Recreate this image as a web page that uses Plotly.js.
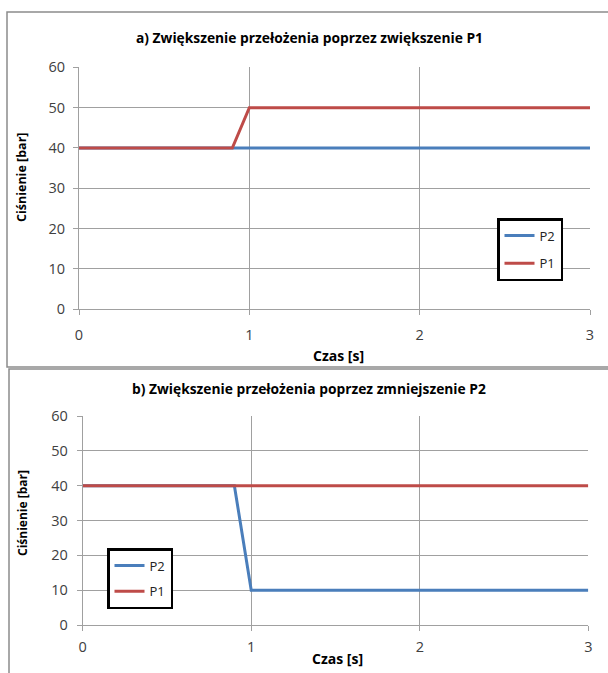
<!DOCTYPE html>
<html>
<head>
<meta charset="utf-8">
<script src="https://cdn.plot.ly/plotly-3.0.1.min.js"></script>
<style>
html,body{margin:0;padding:0;overflow:hidden;background:#fff;}
#chart{width:608px;height:673px;}
</style>
</head>
<body>
<div id="chart"></div>
<script>
// Data
const timeA = [0, 0.9, 1, 3];
const p2A = [40, 40, 40, 40];
const p1A = [40, 40, 50, 50];

const timeB = [0, 0.9, 1, 3];
const p2B = [40, 40, 10, 10];
const p1B = [40, 40, 40, 40];

const titleA = "a) Zwiększenie przełożenia poprzez zwiększenie P1";
const titleB = "b) Zwiększenie przełożenia poprzez zmniejszenie P2";
const xTitle = "Czas [s]";
const yTitle = "Ciśnienie [bar]";

const blue = "#4A7EBB";
const red = "#BE4B48";
const grid = "#a0a0a0";
const FONT = "Open Sans, sans-serif";

const W = 608, H = 673;
const px = v => v / W;
const py = v => 1 - v / H;

const traces = [
  {x: timeA, y: p2A, name: "P2", mode: "lines", line: {color: blue, width: 3}, xaxis: "x", yaxis: "y", legend: "legend", legendgroup: "a2"},
  {x: timeA, y: p1A, name: "P1", mode: "lines", line: {color: red, width: 3}, xaxis: "x", yaxis: "y", legend: "legend", legendgroup: "a1"},
  {x: timeB, y: p2B, name: "P2", mode: "lines", line: {color: blue, width: 3}, xaxis: "x2", yaxis: "y2", legend: "legend2", legendgroup: "b2"},
  {x: timeB, y: p1B, name: "P1", mode: "lines", line: {color: red, width: 3}, xaxis: "x2", yaxis: "y2", legend: "legend2", legendgroup: "b1"}
];

const axisCommon = {
  showgrid: true, gridcolor: grid, gridwidth: 1,
  showline: true, linecolor: grid, linewidth: 1,
  zeroline: false,
  ticks: "outside", ticklen: 5, tickcolor: grid,
  tickfont: {family: FONT, size: 14.5, color: "#404040"},
  fixedrange: true
};

const layout = {
  width: W, height: H,
  margin: {l: 0, r: 0, t: 0, b: 0},
  paper_bgcolor: "#fff", plot_bgcolor: "#fff",
  showlegend: true,
  font: {family: FONT},
  xaxis: Object.assign({}, axisCommon, {domain: [px(79), px(590)], range: [0, 3], tickvals: [0, 1, 2, 3], anchor: "y", ticklabelstandoff: 7}),
  yaxis: Object.assign({}, axisCommon, {domain: [py(309.3), py(67.3)], range: [0, 60], tickvals: [0, 10, 20, 30, 40, 50, 60], anchor: "x", ticklabelstandoff: 5}),
  xaxis2: Object.assign({}, axisCommon, {domain: [px(82.7), px(588.3)], range: [0, 3], tickvals: [0, 1, 2, 3], anchor: "y2", ticklabelstandoff: 4}),
  yaxis2: Object.assign({}, axisCommon, {domain: [py(625), py(416)], range: [0, 60], tickvals: [0, 10, 20, 30, 40, 50, 60], anchor: "x2", ticklabelstandoff: 6}),
  legend: {
    x: px(497), y: py(218), xanchor: "left", yanchor: "top",
    bordercolor: "#000", borderwidth: 2.5, bgcolor: "#fff",
    font: {family: FONT, size: 13, color: "#222"},
    traceorder: "grouped", tracegroupgap: 8, itemwidth: 30
  },
  legend2: {
    x: px(107), y: py(548), xanchor: "left", yanchor: "top",
    bordercolor: "#000", borderwidth: 2.5, bgcolor: "#fff",
    font: {family: FONT, size: 13, color: "#222"},
    traceorder: "grouped", tracegroupgap: 6, itemwidth: 30
  },
  shapes: [
    {type: "rect", xref: "paper", yref: "paper", x0: px(7), x1: 1.02, y0: py(367), y1: py(12), line: {color: "#8c8c8c", width: 1.5}, layer: "below"},
    {type: "rect", xref: "paper", yref: "paper", x0: px(9), x1: 1.02, y0: -0.02, y1: py(369), line: {color: "#8c8c8c", width: 1.5}, layer: "below"}
  ],
  annotations: [
    {text: "<b>" + titleA + "</b>", xref: "paper", yref: "paper", x: px(310), y: py(37), xanchor: "center", yanchor: "middle", showarrow: false, font: {family: FONT, size: 13.8, color: "#000"}},
    {text: "<b>" + titleB + "</b>", xref: "paper", yref: "paper", x: px(309), y: py(389), xanchor: "center", yanchor: "middle", showarrow: false, font: {family: FONT, size: 13.8, color: "#000"}},
    {text: "<b>" + xTitle + "</b>", xref: "paper", yref: "paper", x: px(338), y: py(355), xanchor: "center", yanchor: "middle", showarrow: false, font: {family: FONT, size: 14, color: "#000"}},
    {text: "<b>" + xTitle + "</b>", xref: "paper", yref: "paper", x: px(337), y: py(658), xanchor: "center", yanchor: "middle", showarrow: false, font: {family: FONT, size: 14, color: "#000"}},
    {text: "<b>" + yTitle + "</b>", xref: "paper", yref: "paper", x: px(22), y: py(178), xanchor: "center", yanchor: "middle", textangle: -90, showarrow: false, font: {family: FONT, size: 12.5, color: "#000"}},
    {text: "<b>" + yTitle + "</b>", xref: "paper", yref: "paper", x: px(22), y: py(513), xanchor: "center", yanchor: "middle", textangle: -90, showarrow: false, font: {family: FONT, size: 12, color: "#000"}}
  ]
};

Plotly.newPlot("chart", traces, layout, {displayModeBar: false, staticPlot: true});
</script>
</body>
</html>
